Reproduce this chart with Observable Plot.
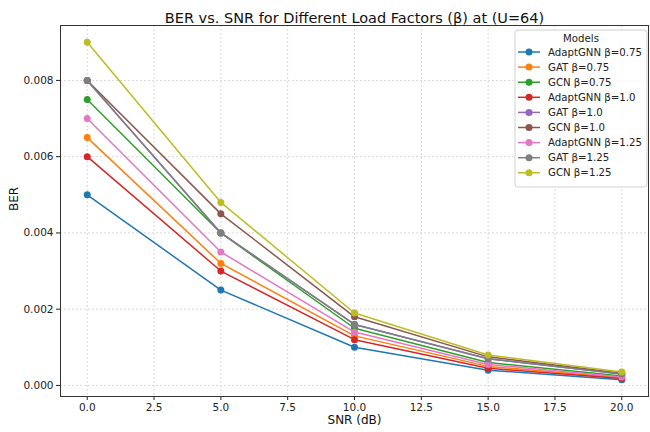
<!DOCTYPE html>
<html>
<head>
<meta charset="utf-8">
<script src="https://cdn.jsdelivr.net/npm/d3@7"></script>
<script src="https://cdn.jsdelivr.net/npm/@observablehq/plot@0.6"></script>
<style>
  html, body { margin: 0; padding: 0; background: #fff; }
  #chart { width: 650px; height: 432px; position: relative; }
</style>
</head>
<body>
<div id="chart"></div>
<script>
const snr = [0, 5, 10, 15, 20];
const seriesNames = [
  "AdaptGNN β=0.75", "GAT β=0.75", "GCN β=0.75",
  "AdaptGNN β=1.0", "GAT β=1.0", "GCN β=1.0",
  "AdaptGNN β=1.25", "GAT β=1.25", "GCN β=1.25"
];
const adaptgnn075 = [0.0050, 0.0025, 0.0010, 0.00040, 0.00015];
const gat075      = [0.0065, 0.0032, 0.0013, 0.00050, 0.00020];
const gcn075      = [0.0075, 0.0040, 0.0015, 0.00060, 0.00025];
const adaptgnn10  = [0.0060, 0.0030, 0.0012, 0.00045, 0.00018];
const gat10       = [0.0080, 0.0040, 0.0016, 0.00070, 0.00030];
const gcn10       = [0.0080, 0.0045, 0.0018, 0.00075, 0.00032];
const adaptgnn125 = [0.0070, 0.0035, 0.0014, 0.00055, 0.00022];
const gat125      = [0.0080, 0.0040, 0.0016, 0.00070, 0.00030];
const gcn125      = [0.0090, 0.0048, 0.0019, 0.00080, 0.00035];
const seriesValues = [adaptgnn075, gat075, gcn075, adaptgnn10, gat10, gcn10, adaptgnn125, gat125, gcn125];
const colors = ["#1f77b4", "#ff7f0e", "#2ca02c", "#d62728", "#9467bd", "#8c564b", "#e377c2", "#7f7f7f", "#bcbd22"];
const xTicks = [0, 2.5, 5, 7.5, 10, 12.5, 15, 17.5, 20];
const yTicks = [0, 0.002, 0.004, 0.006, 0.008];

const title = "BER vs. SNR for Different Load Factors (β) at (U=64)";
const xLabel = "SNR (dB)";
const yLabel = "BER";
const legendTitle = "Models";

const tables = seriesNames.map((name, i) =>
  snr.map((x, j) => ({ snr: x, ber: seriesValues[i][j], series: name }))
);

const seriesMarks = tables.flatMap((t, i) => [
  Plot.line(t, { x: "snr", y: "ber", stroke: colors[i], strokeWidth: 1.5 }),
  Plot.dot(t, { x: "snr", y: "ber", fill: colors[i], r: 3.5 })
]);

const plot = Plot.plot({
  width: 650,
  height: 432,
  marginTop: 25,
  marginBottom: 36,
  marginLeft: 60,
  marginRight: 2,
  style: { fontFamily: "DejaVu Sans", fontSize: "10px", background: "#fff", color: "#222" },
  x: { domain: [-1, 21], ticks: xTicks, tickFormat: d3.format(".1f"), label: null },
  y: { domain: [-0.00029, 0.00944], ticks: yTicks, tickFormat: d3.format(".3f"), label: null },
  marks: [
    Plot.gridX(xTicks, { stroke: "#d8d8d8", strokeOpacity: 1, strokeDasharray: "2,2" }),
    Plot.gridY(yTicks, { stroke: "#d8d8d8", strokeOpacity: 1, strokeDasharray: "2,2" }),
    Plot.axisX(xTicks, { tickSize: 4, tickPadding: 3, tickFormat: d3.format(".1f"), label: null, fontSize: 10.5 }),
    Plot.axisY(yTicks, { tickSize: 4, tickPadding: 3, tickFormat: d3.format(".3f"), label: null, fontSize: 10.5 }),
    ...seriesMarks,
    Plot.frame({ stroke: "#333", strokeWidth: 1 }),
    Plot.text([title], { frameAnchor: "top", dy: -13, fontSize: 14.5, fill: "#111" }),
    Plot.text([xLabel], { frameAnchor: "bottom", dy: 27, fontSize: 12, fill: "#111" }),
    Plot.text([yLabel], { frameAnchor: "left", dx: -46, rotate: -90, fontSize: 12, fill: "#111" })
  ]
});

// Legend (matplotlib-style box, upper right)
const svg = d3.select(plot);
const lg = svg.append("g").attr("font-family", "DejaVu Sans").attr("font-size", 10.2).attr("text-anchor", "start");
const lx = 515, ly = 30, lw = 132, lh = 157;
lg.append("rect").attr("x", lx).attr("y", ly).attr("width", lw).attr("height", lh)
  .attr("rx", 3).attr("fill", "#fff").attr("fill-opacity", 0.85).attr("stroke", "#d0d0d0");
lg.append("text").attr("x", lx + lw / 2).attr("y", ly + 9).attr("dy", "0.32em")
  .attr("text-anchor", "middle").attr("fill", "#222").text(legendTitle);
seriesNames.forEach((name, i) => {
  const yy = ly + 22 + i * 15.1;
  lg.append("line").attr("x1", lx + 3).attr("x2", lx + 25).attr("y1", yy).attr("y2", yy)
    .attr("stroke", colors[i]).attr("stroke-width", 1.5);
  lg.append("circle").attr("cx", lx + 14).attr("cy", yy).attr("r", 3.5).attr("fill", colors[i]);
  lg.append("text").attr("x", lx + 33).attr("y", yy).attr("dy", "0.35em")
    .attr("text-anchor", "start").attr("fill", "#222").text(name);
});

document.getElementById("chart").appendChild(plot);
</script>
</body>
</html>
